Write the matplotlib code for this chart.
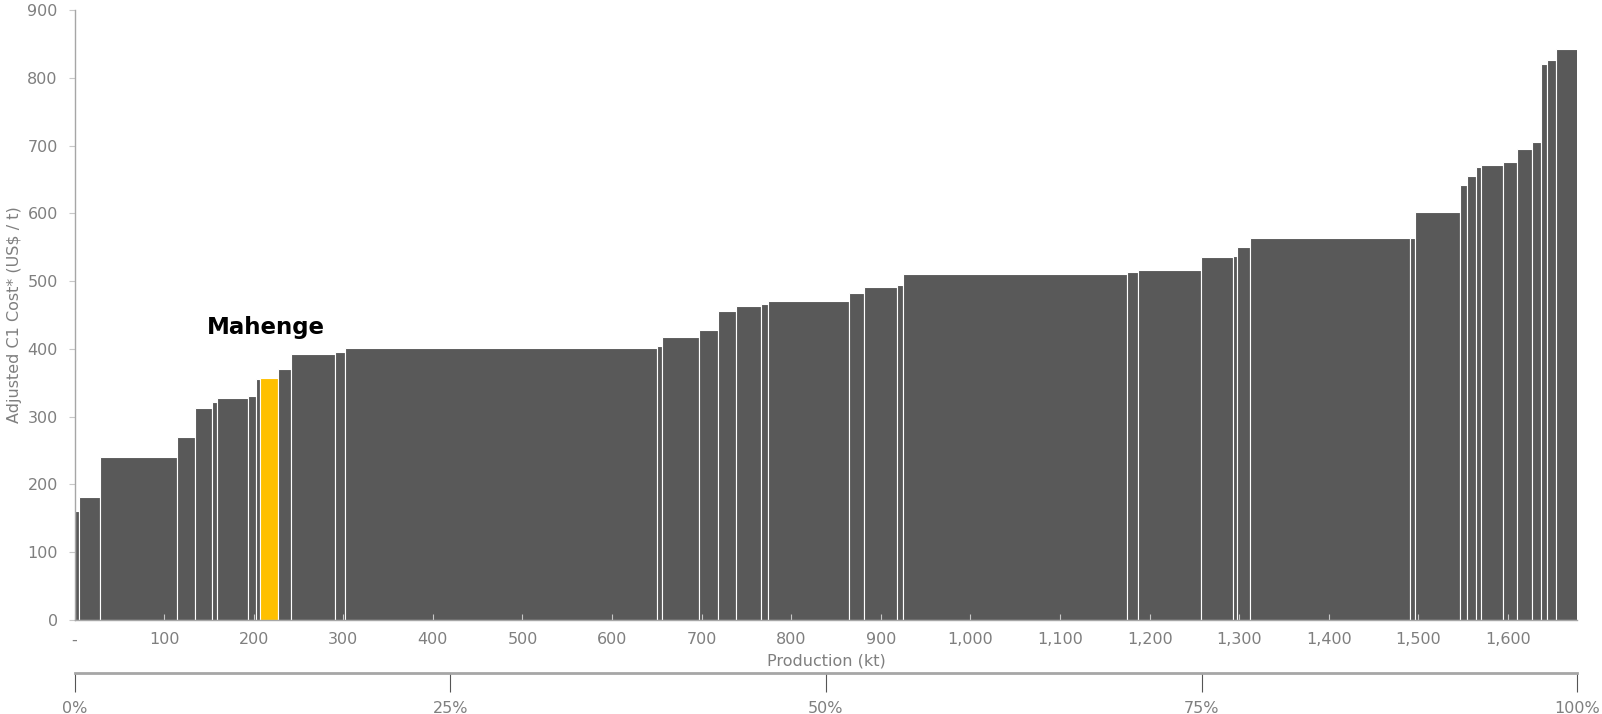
import matplotlib
matplotlib.use("Agg")
import matplotlib.pyplot as plt
from matplotlib.ticker import FuncFormatter, MultipleLocator

# production par mine (kt) et coût C1 ajusté (US$/t), triés par coût
production = [5, 24, 85, 20, 20, 5, 35, 9, 4, 20, 15, 49, 10.5, 349, 5.5, 40.5,
              22, 20, 28, 8, 90, 17, 37, 6.5, 250, 12, 70.5, 35, 5, 14, 179.5,
              5.5, 49.5, 8, 10, 5.5, 25, 15.5, 16.5, 10, 7, 10, 24]
cost = [161, 182, 241, 270, 313, 321, 328, 330, 356, 357, 370, 393, 395, 402,
        405, 417, 428, 456, 463, 466, 471, 482, 491, 494, 511, 513, 516, 536,
        537, 551, 563, 564, 602, 642, 655, 668, 672, 676, 695, 705, 821, 826, 843]
highlight_index = 9
highlight_name = "Mahenge"
pct_ticks = [0, 25, 50, 75, 100]

grey = "#595959"
yellow = "#FFC000"
text_grey = "#7f7f7f"
axis_grey = "#a6a6a6"

plt.rcParams["font.family"] = ["DejaVu Sans"]

fig = plt.figure(figsize=(16.02, 7.14), dpi=100)
ax = fig.add_axes([74.5 / 1602, 94 / 714, 1503 / 1602, 610 / 714])

starts = []
pos = 0
for w in production:
    starts.append(pos)
    pos += w
total = pos

colors = [yellow if i == highlight_index else grey for i in range(len(cost))]
ax.bar(starts, cost, width=production, align="edge", color=colors,
       edgecolor="white", linewidth=0.8)

ax.set_xlim(0, total)
ax.set_ylim(0, 900)

ax.xaxis.set_major_locator(MultipleLocator(100))
ax.xaxis.set_major_formatter(FuncFormatter(lambda v, p: "-" if v == 0 else f"{v:,.0f}"))
ax.yaxis.set_major_locator(MultipleLocator(100))

for s in ["top", "right"]:
    ax.spines[s].set_visible(False)
for s in ["left", "bottom"]:
    ax.spines[s].set_color(axis_grey)
    ax.spines[s].set_linewidth(1)

ax.tick_params(axis="x", direction="in", length=4, color="#c8c8c8",
               labelcolor=text_grey, labelsize=11.5, pad=9)
ax.tick_params(axis="y", direction="out", length=4, color="#c8c8c8",
               labelcolor=text_grey, labelsize=11.5, pad=8)

ax.set_xlabel("Production (kt)", color=text_grey, fontsize=11.5, labelpad=4)
ax.set_ylabel("Adjusted C1 Cost* (US$ / t)", color=text_grey, fontsize=11.5)
ax.yaxis.set_label_coords(-0.035, 0.5)

ax.text(213.5, 431, highlight_name, ha="center", va="center",
        fontsize=16.5, fontweight="bold", color="black")

# axe des pourcentages sous le graphique
sec = ax.secondary_xaxis(-0.087, functions=(lambda x: x / total * 100,
                                            lambda p: p * total / 100))
sec.set_xticks(pct_ticks)
sec.set_xticklabels([f"{p}%" for p in pct_ticks])
sec.spines["bottom"].set_color(axis_grey)
sec.spines["bottom"].set_linewidth(2)
sec.tick_params(axis="x", direction="out", length=14, width=0.8, color="#555555",
                labelcolor=text_grey, labelsize=11.5, pad=6)

fig.savefig("out.png", dpi=100)
